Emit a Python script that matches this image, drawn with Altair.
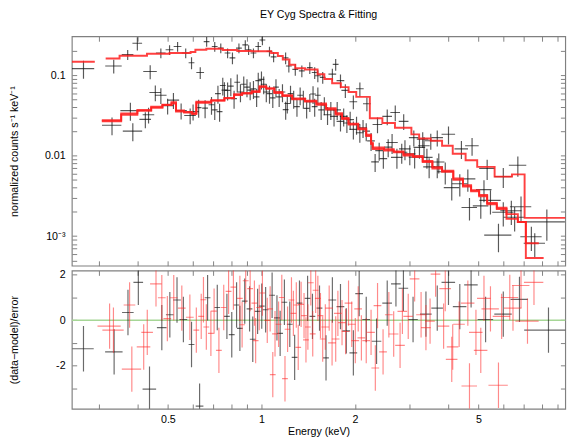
import altair as alt
import pandas as pd

FONT = "Liberation Sans"

# ---------------- axis ticks / domains ----------------
X_TICKS = [0.3, 0.4, 0.5, 0.6, 0.7, 0.8, 0.9, 1, 2, 3, 4, 5, 6, 7, 8, 9]
Y_TICKS = [0.0005, 0.0006, 0.0007, 0.0008, 0.0009, 0.001, 0.002, 0.003, 0.004, 0.005,
           0.006, 0.007, 0.008, 0.009, 0.01, 0.02, 0.03, 0.04, 0.05, 0.06, 0.07, 0.08,
           0.09, 0.1, 0.2]
R_TICKS = [-3, -2, -1, 0, 1, 2]
X_DOMAIN = [0.2453, 9.52]
Y_DOMAIN = [0.00043, 0.303]
R_DOMAIN = [-3.91, 2.19]

# ---------------- spectrum A (upper) ----------------
A_E = [0.2674, 0.3346, 0.3711, 0.3987, 0.4385, 0.4746, 0.5062, 0.5373, 0.5706, 0.5958,
       0.6356, 0.6664, 0.7077, 0.7401, 0.7785, 0.8070, 0.8468, 0.8877, 0.9097, 0.9430,
       0.9772, 1.0079, 1.062, 1.095, 1.197, 1.226, 1.286, 1.350, 1.432, 1.485,
       1.520, 1.576, 1.693, 1.735, 1.798, 1.864, 1.978, 2.076, 2.187, 2.366,
       2.543, 2.699, 2.873, 3.097, 3.308, 3.512, 3.685, 4.005, 4.408, 4.770,
       5.335, 6.013, 6.698, 8.305]
A_DE = [0.0221, 0.0204, 0.0160, 0.0143, 0.0220, 0.0170, 0.0145, 0.0154, 0.0164, 0.0128,
        0.0182, 0.0143, 0.0152, 0.0159, 0.0168, 0.0174, 0.0182, 0.0191, 0.0196, 0.0203,
        0.0210, 0.0217, 0.0229, 0.0236, 0.0258, 0.0264, 0.0277, 0.0291, 0.0308, 0.0320,
        0.0327, 0.0339, 0.0486, 0.0373, 0.0516, 0.0535, 0.0567, 0.0596, 0.0627, 0.0849,
        0.0912, 0.0968, 0.1030, 0.1110, 0.1420, 0.1510, 0.1590, 0.2010, 0.2210, 0.2400,
        0.3060, 0.3880, 0.4320, 1.190]
A_F = [0.1206, 0.1300, 0.1797, 0.2490, 0.1109, 0.1884, 0.2066, 0.2272, 0.1884, 0.1425,
       0.1078, 0.2612, 0.2272, 0.2167, 0.1884, 0.1639, 0.2167, 0.2376, 0.2066, 0.1884,
       0.2272, 0.2731, 0.1976, 0.1685, 0.1639, 0.1300, 0.1182, 0.1131, 0.1240, 0.1078,
       0.0983, 0.0938, 0.1028, 0.1359, 0.0855, 0.0647, 0.0467, 0.0677, 0.0441, 0.02436,
       0.0307, 0.03434, 0.02672, 0.01676, 0.01602, 0.0153, 0.01676, 0.01843, 0.01213, 0.01329,
       0.00694, 0.00549, 0.00761, 0.001507]
A_DF = [0.0303, 0.0254, 0.0251, 0.0465, 0.0217, 0.0263, 0.0288, 0.0317, 0.0263, 0.0239,
        0.0180, 0.0364, 0.0317, 0.0302, 0.0263, 0.0274, 0.0302, 0.0331, 0.0288, 0.0263,
        0.0317, 0.0381, 0.0276, 0.0235, 0.0274, 0.0218, 0.0198, 0.0189, 0.0208, 0.0180,
        0.0165, 0.0157, 0.0172, 0.0228, 0.0167, 0.0126, 0.0091, 0.0132, 0.0086, 0.00544,
        0.00685, 0.00766, 0.00596, 0.00374, 0.00358, 0.00342, 0.00374, 0.00463, 0.00305, 0.00334,
        0.00194, 0.00153, 0.00212, 0.00063]

# ---------------- spectrum B (lower) ----------------
B_E = [0.3304, 0.3786, 0.3855, 0.4230, 0.4332, 0.4555, 0.4746, 0.4990, 0.5210, 0.5516,
       0.5898, 0.6027, 0.6281, 0.6589, 0.6909, 0.7077, 0.7247, 0.7336, 0.7511, 0.7603,
       0.7785, 0.7973, 0.8168, 0.8363, 0.8564, 0.8775, 0.8988, 0.9203, 0.9430, 0.9654,
       0.9772, 1.0007, 1.0174, 1.0373, 1.0621, 1.0884, 1.1144, 1.1411, 1.1694, 1.1975,
       1.2122, 1.2413, 1.2706, 1.3020, 1.3332, 1.3652, 1.3989, 1.4325, 1.4669, 1.4849,
       1.5202, 1.5578, 1.5952, 1.6334, 1.6737, 1.7140, 1.7547, 1.7980, 1.8411, 1.8853,
       1.9319, 1.9782, 2.0253, 2.0754, 2.1252, 2.1762, 2.2556, 2.3246, 2.3955, 2.4708,
       2.5612, 2.6361, 2.7320, 2.8314, 2.9000, 3.0060, 3.1158, 3.2293, 3.3403, 3.4126,
       3.4697, 3.6849, 3.7267, 3.9102, 4.1030, 4.3551, 4.6227, 4.6794, 5.0885, 5.2105,
       5.4672, 5.8017, 6.0126, 6.3826, 6.5405, 6.8575, 7.4047, 7.5929]
B_DE = [0.0237, 0.0271, 0.0276, 0.0182, 0.0186, 0.0196, 0.0204, 0.0215, 0.0224, 0.0237,
        0.0254, 0.0259, 0.0135, 0.0142, 0.0149, 0.0152, 0.0156, 0.0158, 0.0161, 0.0163,
        0.0167, 0.0171, 0.0176, 0.0180, 0.0184, 0.0189, 0.0193, 0.0198, 0.0203, 0.0208,
        0.0210, 0.0215, 0.0219, 0.0223, 0.0228, 0.0234, 0.0240, 0.0245, 0.0251, 0.0257,
        0.0261, 0.0267, 0.0273, 0.0280, 0.0287, 0.0294, 0.0301, 0.0308, 0.0315, 0.0319,
        0.0327, 0.0335, 0.0343, 0.0469, 0.0480, 0.0492, 0.0504, 0.0516, 0.0528, 0.0541,
        0.0554, 0.0568, 0.0581, 0.0596, 0.0610, 0.0625, 0.0647, 0.0667, 0.0688, 0.0709,
        0.0735, 0.1134, 0.1175, 0.1218, 0.1247, 0.1293, 0.1340, 0.1389, 0.1436, 0.1467,
        0.1492, 0.1585, 0.1602, 0.2244, 0.2355, 0.2500, 0.2653, 0.2686, 0.2921, 0.2991,
        0.4314, 0.5825, 0.4744, 0.5036, 0.5160, 0.5411, 0.5842, 0.5991]
B_F = [0.02388, 0.03631, 0.02020, 0.02824, 0.03220, 0.06085, 0.05626, 0.04174, 0.04894, 0.03631,
       0.03157, 0.03531, 0.03948, 0.03894, 0.04292, 0.03703, 0.05885, 0.03531, 0.07436, 0.06526,
       0.06472, 0.07295, 0.05117, 0.08155, 0.06171, 0.07712, 0.07097, 0.06526, 0.06766, 0.05365,
       0.08554, 0.08868, 0.07712, 0.06171, 0.05885, 0.05221, 0.07097, 0.05365, 0.06171, 0.03734,
       0.04451, 0.05885, 0.05117, 0.04059, 0.05626, 0.05117, 0.03872, 0.04668, 0.05836, 0.04059,
       0.05626, 0.03703, 0.04256, 0.03220, 0.03703, 0.03071, 0.03703, 0.02672, 0.03071, 0.02547,
       0.02801, 0.02119, 0.02436, 0.01927, 0.02216, 0.02020, 0.01528, 0.00839, 0.01156, 0.00917,
       0.01275, 0.01457, 0.00951, 0.01103, 0.01213, 0.01054, 0.00959, 0.01268, 0.01329, 0.00951,
       0.00725, 0.00725, 0.00834, 0.00631, 0.00400, 0.00448, 0.00515, 0.00227, 0.00238, 0.00379,
       0.00279, 0.00103, 0.00198, 0.00207, 0.00172, 0.00232, 0.000983, 0.000816]
B_DF = [0.0060, 0.00911, 0.00507, 0.0063, 0.00719, 0.01358, 0.01256, 0.00932, 0.01092, 0.0081,
        0.00705, 0.00788, 0.00991, 0.00977, 0.01077, 0.00929, 0.01477, 0.00886, 0.01866, 0.01638,
        0.01624, 0.01831, 0.01284, 0.02047, 0.01549, 0.01936, 0.01781, 0.01638, 0.01698, 0.01347,
        0.02147, 0.02226, 0.01936, 0.01549, 0.01477, 0.01310, 0.01781, 0.01347, 0.01549, 0.00937,
        0.01117, 0.01477, 0.01284, 0.01019, 0.01412, 0.01284, 0.00972, 0.01172, 0.01465, 0.01019,
        0.01412, 0.00929, 0.01068, 0.00808, 0.00929, 0.00771, 0.00929, 0.00671, 0.00771, 0.00639,
        0.00703, 0.00532, 0.00611, 0.00484, 0.00556, 0.00507, 0.00384, 0.00211, 0.00290, 0.00230,
        0.00320, 0.00407, 0.00265, 0.00308, 0.00338, 0.00294, 0.00268, 0.00354, 0.00371, 0.00265,
        0.00202, 0.00202, 0.00233, 0.00194, 0.00123, 0.00138, 0.00158, 0.00070, 0.00073, 0.00116,
        0.00093, 0.00040, 0.00066, 0.00069, 0.00058, 0.00078, 0.00033, 0.00027]

# ---------------- models (bin lower edges, value; last entry = end edge) ----------------
MA1_E = [0.2453, 0.2908]
MA1_F = [0.1466, 0.1466]
MA2_E = [0.3152, 0.3494, 0.4282, 0.5062, 0.5916, 0.6131, 0.6649, 0.7510, 0.8363, 0.9315,
         1.075, 1.130, 1.172, 1.232, 1.286, 1.382, 1.517, 1.595, 1.690, 1.803,
         1.909, 2.021, 2.235, 2.453, 2.693, 3.042, 3.222, 3.512, 3.819, 4.133,
         4.547, 4.955, 5.638, 6.414, 7.042, 9.8]
MA2_F = [0.1607, 0.1746, 0.1848, 0.1884, 0.1937, 0.2065, 0.2124, 0.2050, 0.1992, 0.1977,
         0.1884, 0.1733, 0.1563, 0.1349, 0.1217, 0.1173, 0.1028, 0.0895, 0.0793, 0.0710,
         0.0617, 0.0537, 0.0291, 0.0255, 0.0222, 0.0184, 0.0163, 0.0153, 0.0133, 0.01055,
         0.00875, 0.00726, 0.00549, 0.00586, 0.001687, 0.001687]
MB_E = [0.3063, 0.3536, 0.3987, 0.4417, 0.4803, 0.5135, 0.5311, 0.5637, 0.5981, 0.6174,
        0.6893, 0.7603, 0.8168, 0.8670, 0.9315, 0.9865, 1.037, 1.101, 1.169, 1.256,
        1.382, 1.503, 1.615, 1.735, 1.819, 1.909, 2.050, 2.176, 2.256, 2.284,
        2.483, 2.668, 2.867, 3.080, 3.308, 3.554, 3.819, 4.150, 4.459, 4.736,
        5.027, 5.335, 5.731, 6.158, 6.698, 7.107]
MB1_END = 7.825
MB2_END = 8.110
MB1_F = [0.02748, 0.03222, 0.03600, 0.03946, 0.04256, 0.04447, 0.03530, 0.03434, 0.03367, 0.04667,
         0.04896, 0.05222, 0.05785, 0.05998, 0.06167, 0.07096, 0.06902, 0.06167, 0.05623, 0.05117,
         0.04798, 0.04447, 0.03872, 0.03367, 0.02931, 0.02438, 0.02120, 0.01758, 0.01394, 0.01213,
         0.01157, 0.01103, 0.01005, 0.00959, 0.00834, 0.00693, 0.00631, 0.00500, 0.00415, 0.00361,
         0.00314, 0.00249, 0.00217, 0.00188, 0.00150, 0.000816]
MB2_F = [0.02680, 0.03350, 0.03700, 0.04050, 0.04300, 0.04600, 0.03650, 0.03500, 0.03300, 0.04550,
         0.04800, 0.05150, 0.05650, 0.05900, 0.06300, 0.07300, 0.06750, 0.06000, 0.05500, 0.05000,
         0.04700, 0.04300, 0.03750, 0.03250, 0.02850, 0.02500, 0.02180, 0.01820, 0.01450, 0.01260,
         0.01200, 0.01130, 0.01040, 0.00990, 0.00860, 0.00720, 0.00650, 0.00520, 0.00430, 0.00372,
         0.00325, 0.00258, 0.00225, 0.00164, 0.00150, 0.000537]

# ---------------- residuals ----------------
RES_ERR = 1.0
RK_E = [0.2674, 0.3356, 0.3719, 0.4016, 0.4363, 0.4780, 0.5073, 0.5350, 0.5609, 0.5958,
        0.6325, 0.6711, 0.7211, 0.7745, 0.8029, 0.8321, 0.8527, 0.8839, 0.9162, 0.9382,
        0.9725, 1.0029, 1.0321, 1.0829, 1.1225, 1.1494, 1.1862, 1.2346, 1.2799, 1.3265,
        1.4089, 1.4605, 1.5391, 1.6151, 1.6931, 1.7980, 1.8773, 1.9782, 2.0654, 2.1762,
        2.3496, 2.5427, 2.7126, 2.8674, 3.0797, 3.3884, 3.6849, 4.0049, 4.3551, 4.7359,
        5.2735, 6.0126, 6.7796, 8.4064]
RK_DE = [0.0211, 0.0217, 0.0160, 0.0144, 0.0219, 0.0171, 0.0145, 0.0153, 0.0161, 0.0128,
         0.0181, 0.0144, 0.0155, 0.0167, 0.0173, 0.0179, 0.0183, 0.0190, 0.0197, 0.0202,
         0.0209, 0.0216, 0.0222, 0.0233, 0.0241, 0.0247, 0.0255, 0.0266, 0.0275, 0.0285,
         0.0303, 0.0314, 0.0331, 0.0347, 0.0486, 0.0516, 0.0538, 0.0567, 0.0592, 0.0624,
         0.0842, 0.0912, 0.0972, 0.1028, 0.1104, 0.1458, 0.1585, 0.2010, 0.2186, 0.2377,
         0.3025, 0.3880, 0.4375, 1.386]
RK_R = [-1.26, -1.40, 0.34, 1.67, -3.04, -0.33, 0.24, 0.89, 0.03, -1.07,
        -3.79, 0.99, 0.56, 0.17, -0.64, 0.67, -0.36, 0.84, 0.50, -0.84,
        0.39, 0.62, 0.46, 1.10, 0.10, -0.58, 0.79, -0.18, -1.64, 0.75,
        0.96, 0.17, 0.53, -1.66, 0.89, 0.60, -0.47, -1.44, 1.17, 0.03,
        -0.93, 0.75, 1.60, 1.41, 0.03, 0.27, 0.53, 1.67, 0.60, 1.56,
        0.03, 0.27, 0.92, -0.44]
RR_E = [0.3245, 0.3339, 0.3764, 0.3827, 0.4179, 0.4291, 0.4578, 0.4780, 0.4980, 0.5222,
        0.5544, 0.5885, 0.6174, 0.6402, 0.6509, 0.6649, 0.6878, 0.7043, 0.7299, 0.7565,
        0.7842, 0.8128, 0.8527, 0.8670, 0.8903, 0.9203, 0.9497, 0.9585, 0.9843, 1.0079,
        1.0447, 1.0673, 1.0884, 1.1065, 1.1364, 1.1636, 1.1914, 1.2146, 1.2500, 1.2680,
        1.2957, 1.3144, 1.3428, 1.3722, 1.3919, 1.4119, 1.4428, 1.4636, 1.4955, 1.5202,
        1.5499, 1.5758, 1.6066, 1.6534, 1.6893, 1.7354, 1.7636, 1.8188, 1.8676, 1.9086,
        1.9543, 2.0069, 2.0504, 2.0996, 2.1762, 2.2556, 2.3281, 2.3665, 2.4655, 2.5736,
        2.6676, 2.7970, 2.8458, 2.9715, 3.1158, 3.2685, 3.3884, 3.4937, 3.6397, 3.8628,
        3.9102, 4.1030, 4.1324, 4.3341, 4.6227, 4.6794, 4.9091, 5.0885, 5.2105, 5.4672,
        5.8017, 5.9397, 6.3096, 6.4610, 6.8575, 7.1945, 7.5493]
RR_DE = [0.0279, 0.0263, 0.0162, 0.0274, 0.0210, 0.0185, 0.0197, 0.0137, 0.0143, 0.0150,
         0.0159, 0.0169, 0.0133, 0.0138, 0.0140, 0.0143, 0.0148, 0.0151, 0.0157, 0.0163,
         0.0169, 0.0175, 0.0183, 0.0186, 0.0191, 0.0198, 0.0204, 0.0206, 0.0212, 0.0217,
         0.0225, 0.0229, 0.0234, 0.0238, 0.0244, 0.0250, 0.0256, 0.0261, 0.0269, 0.0273,
         0.0279, 0.0283, 0.0289, 0.0295, 0.0299, 0.0304, 0.0310, 0.0315, 0.0322, 0.0327,
         0.0333, 0.0339, 0.0461, 0.0475, 0.0485, 0.0498, 0.0506, 0.0522, 0.0536, 0.0548,
         0.0561, 0.0576, 0.0588, 0.0603, 0.0625, 0.0647, 0.0668, 0.0679, 0.0708, 0.0739,
         0.0956, 0.1003, 0.1020, 0.1065, 0.1117, 0.1172, 0.1215, 0.1252, 0.1305, 0.1661,
         0.1681, 0.1764, 0.1777, 0.1864, 0.2321, 0.2686, 0.2464, 0.2554, 0.2616, 0.3526,
         0.4160, 0.3831, 0.4070, 0.4167, 0.4423, 0.6189, 0.5413]
RR_R = [-0.26, -0.44, 0.67, -2.16, -1.18, -0.54, 1.60, 0.99, 0.07, 0.99,
        0.53, 0.13, -0.44, 0.17, 0.90, -0.30, -0.58, 0.40, -1.33, 0.56,
        1.27, 1.46, 0.96, -0.20, 1.74, 1.39, 0.75, -0.90, 0.56, 1.20,
        -0.01, 0.50, -2.40, -0.60, -0.18, 1.00, -2.58, -0.40, 0.89, 0.30,
        0.67, -1.20, 0.70, 0.20, -0.87, -0.30, 1.65, -0.60, 1.32, 0.96,
        0.20, -0.83, -0.30, 0.53, -1.00, -0.83, 0.30, -0.11, -0.50, 0.75,
        -0.18, -0.90, 0.50, -0.78, -0.90, -0.54, -2.11, 0.64, -1.40, 0.24,
        -0.61, -1.11, 0.39, 0.17, 1.82, 0.24, -0.33, -0.04, 2.03, -0.26,
        1.39, -1.73, -1.18, -0.18, 0.75, -2.90, -0.54, -1.33, 0.96, 0.50,
        -2.87, 0.17, 1.00, 0.53, 1.53, -0.04, 1.67]

# ---------------- data frames ----------------
def spec_df(E, dE, F, dF):
    d = pd.DataFrame({"E": E, "dE": dE, "v": F, "dv": dF})
    d["lo"] = d.E - d.dE
    d["hi"] = d.E + d.dE
    d["vlo"] = d.v - d.dv
    d["vhi"] = d.v + d.dv
    return d

def res_df(E, dE, R):
    d = pd.DataFrame({"E": E, "dE": dE, "v": R})
    d["lo"] = d.E - d.dE
    d["hi"] = d.E + d.dE
    d["vlo"] = d.v - RES_ERR
    d["vhi"] = d.v + RES_ERR
    return d

dfA = spec_df(A_E, A_DE, A_F, A_DF)
dfB = spec_df(B_E, B_DE, B_F, B_DF)
dfRK = res_df(RK_E, RK_DE, RK_R)
dfRR = res_df(RR_E, RR_DE, RR_R)
dfMA1 = pd.DataFrame({"E": MA1_E, "v": MA1_F})
dfMA2 = pd.DataFrame({"E": MA2_E, "v": MA2_F})
dfMB1 = pd.DataFrame({"E": MB_E + [MB1_END], "v": MB1_F + [MB1_F[-1]]})
dfMB2 = pd.DataFrame({"E": MB_E + [MB2_END], "v": MB2_F + [MB2_F[-1]]})
dfZero = pd.DataFrame({"v": [0.0]})

# ---------------- scales & axes ----------------
xs = alt.Scale(type="log", domain=X_DOMAIN, nice=False)
ys = alt.Scale(type="log", domain=Y_DOMAIN, nice=False)
rs = alt.Scale(domain=R_DOMAIN, nice=False, zero=False)

TICK = dict(tickSize=5, tickColor="#808080", tickWidth=1, domain=False, grid=False,
            offset=-5, labelOverlap=False)

X_LABELS = ("datum.value == 0.5 ? '0.5' : datum.value == 1 ? '1' : "
            "datum.value == 2 ? '2' : datum.value == 5 ? '5' : ''")
Y_LABELS = ("datum.value == 0.1 ? '0.1' : datum.value == 0.01 ? '0.01' : "
            "datum.value == 0.001 ? '10⁻³' : ''")
R_LABELS = "datum.value == 2 ? '2' : datum.value == 0 ? '0' : datum.value == -2 ? '-2' : ''"

ax_tx = alt.Axis(values=X_TICKS, labels=False, **TICK)
ax_ty = alt.Axis(values=Y_TICKS, labelExpr=Y_LABELS, labelPadding=7,
                 minExtent=49, maxExtent=49, titlePadding=10, **TICK)
ax_tx2 = alt.Axis(orient="top", values=X_TICKS, labels=False, **TICK)
ax_ty2 = alt.Axis(orient="right", values=Y_TICKS, labels=False, **TICK)

ax_rx = alt.Axis(values=X_TICKS, labelExpr=X_LABELS, labelPadding=5, titlePadding=2, **TICK)
ax_ry = alt.Axis(values=R_TICKS, labelExpr=R_LABELS, labelPadding=7,
                 minExtent=49, maxExtent=49, titlePadding=10, **TICK)
ax_rx2 = alt.Axis(orient="top", values=X_TICKS, labels=False, **TICK)
ax_ry2 = alt.Axis(orient="right", values=R_TICKS, labels=False, **TICK)

Y_TITLE = "normalized counts s⁻¹ keV⁻¹"
R_TITLE = "(data−model)/error"
X_TITLE = "Energy (keV)"


def crosses(df, color, opacity, xax, yax, yscale, xtitle, ytitle):
    base = alt.Chart(df)
    h = base.mark_rule(color=color, opacity=opacity, strokeWidth=1.2, clip=True).encode(
        x=alt.X("lo:Q", scale=xs, axis=xax, title=xtitle), x2="hi:Q",
        y=alt.Y("v:Q", scale=yscale, axis=yax, title=ytitle))
    v = base.mark_rule(color=color, opacity=opacity, strokeWidth=1.2, clip=True).encode(
        x=alt.X("E:Q", scale=xs, axis=xax, title=xtitle),
        y=alt.Y("vlo:Q", scale=yscale, axis=yax, title=ytitle), y2="vhi:Q")
    return [h, v]


def model(df):
    return alt.Chart(df).mark_line(interpolate="step-after", color="#ff1f1f", strokeWidth=2,
                                   opacity=0.85, clip=True).encode(
        x=alt.X("E:Q", scale=xs, axis=ax_tx, title=None),
        y=alt.Y("v:Q", scale=ys, axis=ax_ty, title=Y_TITLE))


top_inner = alt.layer(
    *crosses(dfA, "#111111", 0.7, ax_tx, ax_ty, ys, None, Y_TITLE),
    *crosses(dfB, "#111111", 0.7, ax_tx, ax_ty, ys, None, Y_TITLE),
    model(dfMA1), model(dfMA2), model(dfMB1), model(dfMB2),
)
top_frame = alt.Chart(dfMA2).mark_point(opacity=0).encode(
    x=alt.X("E:Q", scale=xs, axis=ax_tx2, title=None),
    y=alt.Y("v:Q", scale=ys, axis=ax_ty2, title=None))

top = alt.layer(top_inner, top_frame).resolve_axis(x="independent", y="independent").properties(
    width=510, height=237,
    title=alt.Title("EY Cyg Spectra & Fitting", fontSize=11, font=FONT, fontWeight="normal",
                    anchor="middle", frame="group", offset=17, color="black"))

zero = alt.Chart(dfZero).mark_rule(color="#a6d696", strokeWidth=1.5).encode(
    y=alt.Y("v:Q", scale=rs, axis=ax_ry, title=R_TITLE))

res_inner = alt.layer(
    zero,
    *crosses(dfRK, "#1a1a1a", 0.65, ax_rx, ax_ry, rs, X_TITLE, R_TITLE),
    *crosses(dfRR, "#ff2a2a", 0.55, ax_rx, ax_ry, rs, X_TITLE, R_TITLE),
)
res_frame = alt.Chart(dfRK).mark_point(opacity=0).encode(
    x=alt.X("E:Q", scale=xs, axis=ax_rx2, title=None),
    y=alt.Y("v:Q", scale=rs, axis=ax_ry2, title=None))

res = alt.layer(res_inner, res_frame).resolve_axis(x="independent", y="independent").properties(
    width=510, height=143)

chart = alt.vconcat(top, res, spacing=0).properties(
    padding={"left": 0, "top": -8, "right": 0, "bottom": 0}
).configure_view(stroke="#808080", strokeWidth=1.2).configure_axis(
    labelFont=FONT, titleFont=FONT, labelFontSize=11, titleFontSize=11,
    labelColor="black", titleColor="black", titleFontWeight="normal")

chart.save("out.html", embed_options={"renderer": "svg", "actions": False})
